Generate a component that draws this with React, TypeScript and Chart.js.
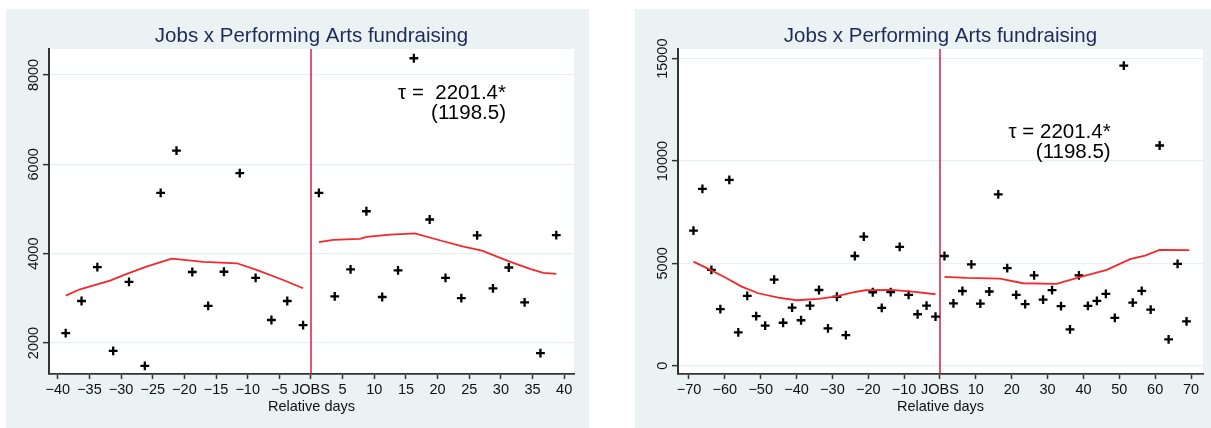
import { useEffect, useRef } from 'react';
import { Chart, registerables } from 'chart.js';

Chart.register(...registerables);

const FONT = '"Liberation Sans", Arial, Helvetica, sans-serif';
const PANEL_BG = '#eaf2f3';
const GRID = '#e6eff1';
const AXIS = '#333333';
const TITLE_COLOR = '#1d2b57';
const FIT_COLOR = '#f4282a';
const EVENT_COLOR = '#cf1f44';

// Average daily fundraising per 2.5-day bin, before and after the Jobs event (day 0)
const preDays = [
  -68.75, -66.25, -63.75, -61.25, -58.75, -56.25, -53.75, -51.25, -48.75, -46.25,
  -43.75, -41.25, -38.75, -36.25, -33.75, -31.25, -28.75, -26.25, -23.75, -21.25,
  -18.75, -16.25, -13.75, -11.25, -8.75, -6.25, -3.75, -1.25,
];
const preFunds = [
  6600, 8640, 4680, 2760, 9080, 1630, 3410, 2420, 1960, 4210,
  2100, 2840, 2220, 2940, 3700, 1825, 3370, 1490, 5360, 6305,
  3590, 2830, 3595, 5805, 3460, 2515, 2940, 2400,
];
const postDays = [
  1.25, 3.75, 6.25, 8.75, 11.25, 13.75, 16.25, 18.75, 21.25, 23.75,
  26.25, 28.75, 31.25, 33.75, 36.25, 38.75, 41.25, 43.75, 46.25, 48.75,
  51.25, 53.75, 56.25, 58.75, 61.25, 63.75, 66.25, 68.75,
];
const postFunds = [
  5360, 3045, 3650, 4950, 3030, 3625, 8375, 4765, 3460, 3005,
  4410, 3225, 3690, 2910, 1775, 4415, 2920, 3165, 3505, 2335,
  14660, 3080, 3655, 2740, 10760, 1290, 4975, 2170,
];

// Local fits within a ±40 day window
const fit40PreDays = [-38.75, -36.5, -31.75, -29.1, -26, -22, -17, -11.7, -8.6, -4.4, -1.25];
const fit40PreVals = [3060, 3203, 3395, 3546, 3709, 3888, 3814, 3785, 3635, 3411, 3225];
const fit40PostDays = [1.25, 3.5, 7.7, 8.8, 12.5, 16.4, 20.9, 24.1, 27, 31.4, 34.6, 36.7, 38.75];
const fit40PostVals = [4256, 4307, 4330, 4374, 4426, 4456, 4278, 4158, 4068, 3822, 3658, 3568, 3546];

// Local fits within a ±70 day window
const fit70PreDays = [-68.75, -64.6, -60, -55.3, -50.7, -45.1, -40, -33.9, -29.2, -24.6, -20.9, -13.5, -7, -1.25];
const fit70PreVals = [5086, 4729, 4323, 3863, 3540, 3325, 3198, 3262, 3374, 3570, 3687, 3702, 3604, 3491];
const fit70PostDays = [1.25, 7.4, 16.7, 23.2, 32.5, 39, 46.5, 53, 57.2, 61.2, 69.5];
const fit70PostVals = [4337, 4288, 4254, 4029, 3995, 4323, 4680, 5203, 5379, 5658, 5643];

const xTicks40 = [-40, -35, -30, -25, -20, -15, -10, -5, 0, 5, 10, 15, 20, 25, 30, 35, 40];
const xTicks70 = [-70, -60, -50, -40, -30, -20, -10, 0, 10, 20, 30, 40, 50, 60, 70];
const yTicks40 = [2000, 4000, 6000, 8000];
const yTicks70 = [0, 5000, 10000, 15000];

const chartTitle = 'Jobs x Performing Arts fundraising';
const xAxisTitle = 'Relative days';
const eventLabel = 'JOBS';
const tau40 = ['\u03c4 =  2201.4*', '(1198.5)'];
const tau70 = ['\u03c4 = 2201.4*', '(1198.5)'];

type PanelProps = {
  width: number;
  height: number;
  rightPad: number;
  xMin: number;
  xMax: number;
  yMin: number;
  yMax: number;
  xTicks: number[];
  yTicks: number[];
  windowDays: number;
  fitPre: [number[], number[]];
  fitPost: [number[], number[]];
  tau: string[];
  tauX: number;
  tauY: number;
};

const pairs = (xs: number[], ys: number[]) => xs.map((x, i) => ({ x, y: ys[i] }));

const fmtDay = (v: number) => (v === 0 ? eventLabel : v < 0 ? '\u2212' + Math.abs(v) : String(v));

function Panel(props: PanelProps) {
  const ref = useRef<HTMLCanvasElement | null>(null);

  useEffect(() => {
    const canvas = ref.current;
    if (!canvas) return;
    const {
      xMin, xMax, yMin, yMax, xTicks, yTicks, windowDays, fitPre, fitPost, tau, tauX, tauY, rightPad,
    } = props;

    const inWindow = (d: number) => Math.abs(d) < windowDays;
    const points = [
      ...pairs(preDays, preFunds),
      ...pairs(postDays, postFunds),
    ].filter((p) => inWindow(p.x));

    const decor = {
      id: 'panelDecor',
      beforeDraw(chart: any) {
        const { ctx, chartArea } = chart;
        ctx.save();
        ctx.fillStyle = PANEL_BG;
        ctx.fillRect(0, 0, chart.width, chart.height);
        ctx.fillStyle = '#ffffff';
        ctx.fillRect(chartArea.left, chartArea.top, chartArea.right - chartArea.left, chartArea.bottom - chartArea.top);
        ctx.restore();
      },
      beforeDatasetsDraw(chart: any) {
        const { ctx, chartArea, scales } = chart;
        const x0 = scales.x.getPixelForValue(0);
        ctx.save();
        ctx.strokeStyle = EVENT_COLOR;
        ctx.lineWidth = 1.5;
        ctx.beginPath();
        ctx.moveTo(x0, chartArea.top);
        ctx.lineTo(x0, chartArea.bottom);
        ctx.stroke();
        ctx.restore();
      },
      afterDraw(chart: any) {
        const { ctx, chartArea, scales } = chart;
        ctx.save();
        // chart title
        ctx.fillStyle = TITLE_COLOR;
        ctx.font = `20.5px ${FONT}`;
        ctx.textAlign = 'center';
        ctx.textBaseline = 'alphabetic';
        ctx.fillText(chartTitle, (chartArea.left + chartArea.right) / 2, chartArea.top - 7.5);

        // vertical y tick labels
        ctx.fillStyle = '#111111';
        ctx.font = `14.5px ${FONT}`;
        ctx.textAlign = 'center';
        ctx.textBaseline = 'middle';
        for (const v of yTicks) {
          const py = scales.y.getPixelForValue(v);
          ctx.save();
          ctx.translate(chartArea.left - 15.5, py);
          ctx.rotate(-Math.PI / 2);
          ctx.fillText(String(v), 0, 0);
          ctx.restore();
        }

        // estimate annotation
        ctx.fillStyle = '#000000';
        ctx.font = `20.5px ${FONT}`;
        ctx.textAlign = 'right';
        ctx.textBaseline = 'alphabetic';
        const ax = scales.x.getPixelForValue(tauX);
        const ay = scales.y.getPixelForValue(tauY);
        tau.forEach((line, i) => ctx.fillText(line, ax, ay + i * 19.7));
        ctx.restore();
      },
    };

    const chart = new Chart(canvas, {
      type: 'scatter',
      data: {
        datasets: [
          {
            data: pairs(fitPre[0], fitPre[1]),
            showLine: true,
            borderColor: FIT_COLOR,
            borderWidth: 1.8,
            pointRadius: 0,
            tension: 0,
          },
          {
            data: pairs(fitPost[0], fitPost[1]),
            showLine: true,
            borderColor: FIT_COLOR,
            borderWidth: 1.8,
            pointRadius: 0,
            tension: 0,
          },
          {
            data: points,
            showLine: false,
            pointStyle: 'cross',
            pointRadius: 4.4,
            borderWidth: 2.3,
            borderColor: '#000000',
            backgroundColor: '#000000',
          },
        ],
      },
      options: {
        animation: false,
        responsive: false,
        maintainAspectRatio: false,
        events: [],
        layout: { padding: { top: 40, right: rightPad, left: 0, bottom: 0 } },
        plugins: {
          legend: { display: false },
          tooltip: { enabled: false },
          title: { display: false },
        },
        scales: {
          x: {
            type: 'linear',
            min: xMin,
            max: xMax,
            afterBuildTicks: (s: any) => {
              s.ticks = xTicks.map((value) => ({ value }));
            },
            afterFit: (s: any) => {
              s.height = 54;
            },
            grid: {
              drawOnChartArea: false,
              drawTicks: true,
              tickLength: 5,
              tickColor: AXIS,
              tickWidth: 1.5,
            },
            border: { color: AXIS, width: 1.8 },
            ticks: {
              color: '#111111',
              font: { family: FONT, size: 14.5 },
              padding: 2.5,
              autoSkip: false,
              maxRotation: 0,
              minRotation: 0,
              callback: (v: any) => fmtDay(Number(v)),
            },
            title: {
              display: true,
              text: xAxisTitle,
              color: '#111111',
              font: { family: FONT, size: 14.5 },
              padding: { top: 0, bottom: 12.5 },
            },
          },
          y: {
            type: 'linear',
            min: yMin,
            max: yMax,
            afterBuildTicks: (s: any) => {
              s.ticks = yTicks.map((value) => ({ value }));
            },
            afterFit: (s: any) => {
              s.width = 43;
            },
            grid: {
              color: GRID,
              lineWidth: 1.3,
              drawTicks: true,
              tickLength: 6,
              tickColor: AXIS,
              tickWidth: 1.5,
            },
            border: { color: AXIS, width: 2 },
            ticks: { display: false },
          },
        },
      },
      plugins: [decor],
    } as any);

    return () => chart.destroy();
  }, []);

  return (
    <canvas
      ref={ref}
      width={props.width}
      height={props.height}
      style={{ display: 'block', width: props.width, height: props.height }}
    />
  );
}

export default function App() {
  return (
    <div style={{ position: 'absolute', left: 0, top: 0, width: 1211, height: 428, background: '#ffffff', overflow: 'hidden' }}>
      <div style={{ position: 'absolute', left: 6, top: 9 }}>
        <Panel
          width={583}
          height={419}
          rightPad={15}
          xMin={-41.39}
          xMax={41.55}
          yMin={1306}
          yMax={8582}
          xTicks={xTicks40}
          yTicks={yTicks40}
          windowDays={40}
          fitPre={[fit40PreDays, fit40PreVals]}
          fitPost={[fit40PostDays, fit40PostVals]}
          tau={tau40}
          tauX={30.8}
          tauY={7456}
        />
      </div>
      <div style={{ position: 'absolute', left: 635, top: 9 }}>
        <Panel
          width={576}
          height={419}
          rightPad={8}
          xMin={-73.06}
          xMax={73.34}
          yMin={-405}
          yMax={15474}
          xTicks={xTicks70}
          yTicks={yTicks70}
          windowDays={70}
          fitPre={[fit70PreDays, fit70PreVals]}
          fitPost={[fit70PostDays, fit70PostVals]}
          tau={tau70}
          tauX={47.6}
          tauY={11120}
        />
      </div>
    </div>
  );
}
